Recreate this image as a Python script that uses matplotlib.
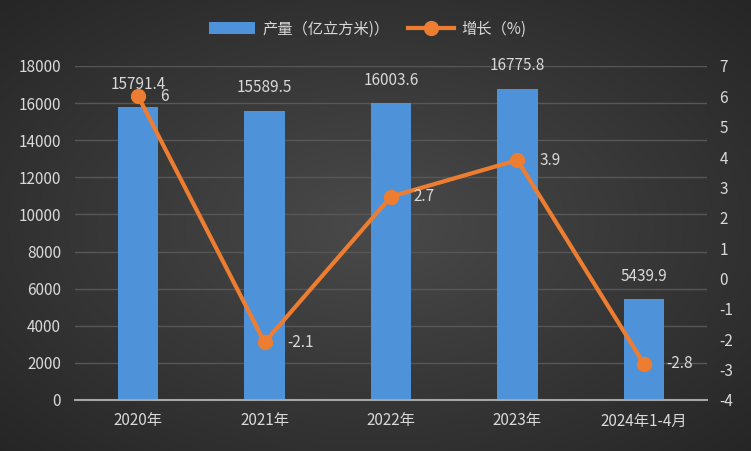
import numpy as np
import matplotlib
matplotlib.use("Agg")
import matplotlib.pyplot as plt
from matplotlib.lines import Line2D
from matplotlib.patches import Patch

plt.rcParams['font.family'] = ['Noto Sans CJK SC', 'DejaVu Sans']
plt.rcParams['axes.unicode_minus'] = False

categories = ["2020年", "2021年", "2022年", "2023年", "2024年1-4月"]
output = [15791.4, 15589.5, 16003.6, 16775.8, 5439.9]
growth = [6, -2.1, 2.7, 3.9, -2.8]
output_labels = ["15791.4", "15589.5", "16003.6", "16775.8", "5439.9"]
growth_labels = ["6", "-2.1", "2.7", "3.9", "-2.8"]
left_ticks = [0, 2000, 4000, 6000, 8000, 10000, 12000, 14000, 16000, 18000]
right_ticks = [-4, -3, -2, -1, 0, 1, 2, 3, 4, 5, 6, 7]

W, H = 751, 451
fig = plt.figure(figsize=(W / 100, H / 100), dpi=100)

# background radial gradient
bg = fig.add_axes([0, 0, 1, 1], zorder=-10)
yy, xx = np.mgrid[0:1:200j, 0:1:300j]
r = np.sqrt(((xx - 0.5) / 0.75) ** 2 + ((yy - 0.5) / 0.75) ** 2)
v = np.clip(0.29 - 0.15 * r, 0, 1)
bg.imshow(np.dstack([v, v, v]), aspect='auto', extent=[0, 1, 0, 1], interpolation='bicubic')
bg.set_axis_off()

ax = fig.add_axes([75 / W, (H - 400) / H, 632 / W, 334 / H])
ax.set_facecolor('none')
x = np.arange(len(categories))
bars = ax.bar(x, output, width=0.32, color='#4e93da', zorder=2)
ax.set_xlim(-0.5, len(categories) - 0.5)
ax.set_ylim(0, 18000)
ax.set_yticks(left_ticks)
ax.set_xticks(x)
ax.set_xticklabels(categories)
ax.grid(axis='y', color='#575757', linewidth=1, zorder=0)
for s in ['top', 'left', 'right']:
    ax.spines[s].set_visible(False)
ax.spines['bottom'].set_color('#a6a6a6')
ax.spines['bottom'].set_linewidth(1.5)
ax.tick_params(axis='both', length=0, colors='#d9d9d9', labelsize=11)
ax.tick_params(axis='y', pad=10)
ax.tick_params(axis='x', pad=9)

for xi, val, lab in zip(x, output, output_labels):
    ax.annotate(lab, (xi, val), xytext=(0, 16.5), textcoords='offset points',
                ha='center', va='center', color='#d9d9d9', fontsize=11, zorder=5)

ax2 = ax.twinx()
ax2.set_ylim(-4, 7)
ax2.set_yticks(right_ticks)
for s in ['top', 'left', 'right', 'bottom']:
    ax2.spines[s].set_visible(False)
ax2.tick_params(axis='y', length=0, colors='#d9d9d9', labelsize=11, pad=9)
ax2.plot(x, growth, color='#ed7d31', linewidth=3, marker='o', markersize=10,
         markerfacecolor='#ed7d31', markeredgecolor='#ed7d31', zorder=4)
for xi, val, lab in zip(x, growth, growth_labels):
    ax2.annotate(lab, (xi, val), xytext=(16, 0), textcoords='offset points',
                 ha='left', va='center', color='#d9d9d9', fontsize=11, zorder=5)

handles = [Patch(facecolor='#4e93da', edgecolor='none'),
           Line2D([0], [0], color='#ed7d31', linewidth=3, marker='o', markersize=10)]
leg = fig.legend(handles, ["产量（亿立方米)）", "增长（%)"], loc='center',
                 bbox_to_anchor=(368 / W, 1 - 29 / H), ncol=2, frameon=False,
                 fontsize=11, labelcolor='#d9d9d9', handlelength=3.0,
                 handleheight=0.8, columnspacing=1.2, handletextpad=0.5)

fig.savefig('out.png', dpi=100)
